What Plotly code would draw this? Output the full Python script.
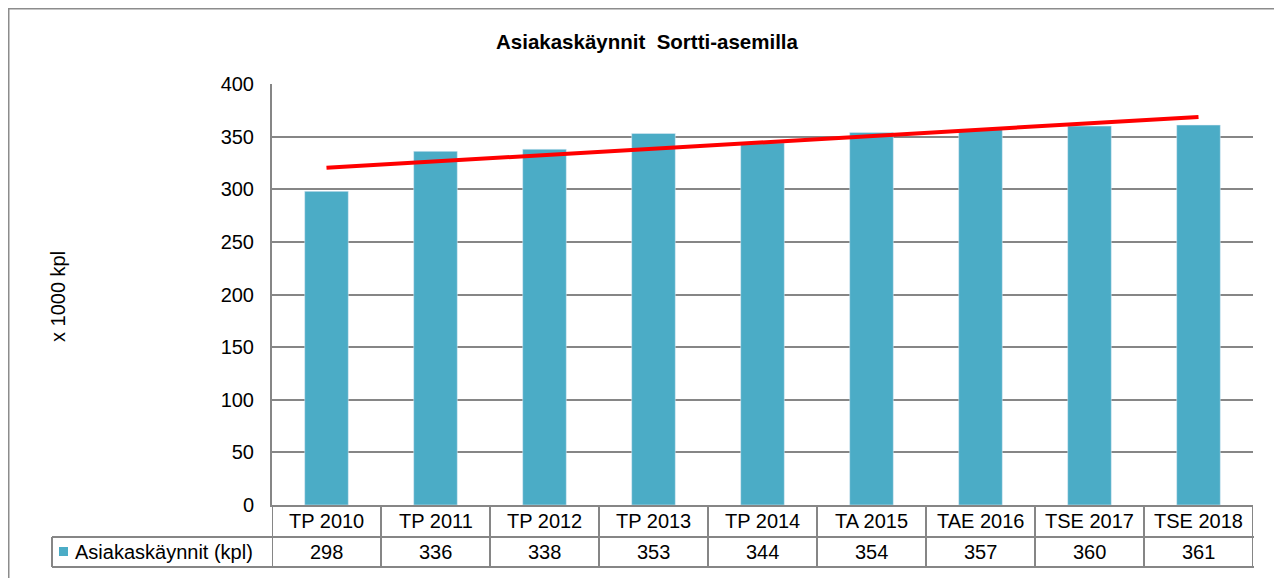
import numpy as np
import plotly.graph_objects as go

categories = ["TP 2010", "TP 2011", "TP 2012", "TP 2013", "TP 2014",
              "TA 2015", "TAE 2016", "TSE 2017", "TSE 2018"]
values = [298, 336, 338, 353, 344, 354, 357, 360, 361]
series_name = "Asiakaskäynnit (kpl)"
title_text = "Asiakaskäynnit  Sortti-asemilla"
y_title = "x 1000 kpl"
y_ticks = [0, 50, 100, 150, 200, 250, 300, 350, 400]

BAR = "#4BACC6"
GRID = "#868686"
FONT = "Liberation Sans, Arial, sans-serif"

OFF = 8  # default page body margin
W_FIG, H_FIG = 1282 - OFF, 578 - OFF
L, R, T, B = 272 - OFF, 1253 - OFF, 84 - OFF, 505 - OFF
PW, PH = R - L, B - T


def px(x):
    return (x - OFF - L) / PW


def py(y):
    return (B - (y - OFF)) / PH


xs = list(range(len(categories)))
coef = np.polyfit(xs, values, 1)
trend = np.polyval(coef, xs)

fig = go.Figure()
fig.add_trace(go.Bar(x=xs, y=values, marker_color=BAR, width=0.40,
                     name=series_name, showlegend=False))
fig.add_trace(go.Scatter(x=[xs[0], xs[-1]], y=[trend[0], trend[-1]], mode="lines",
                         line=dict(color="#FF0000", width=4), showlegend=False))

shapes = []
# outer frame
shapes.append(dict(type="rect", xref="paper", yref="paper",
                   x0=px(8.5), x1=px(1300), y0=py(8.5), y1=py(600),
                   line=dict(color="#8C8C8C", width=2), layer="below"))
# table: vertical lines at category boundaries
for i in range(len(categories) + 1):
    shapes.append(dict(type="line", xref="x", yref="paper",
                       x0=i - 0.5, x1=i - 0.5, y0=py(505), y1=py(567),
                       line=dict(color=GRID, width=2)))
# table horizontal lines
shapes.append(dict(type="line", xref="paper", yref="paper",
                   x0=px(52), x1=px(1254), y0=py(537), y1=py(537),
                   line=dict(color=GRID, width=2)))
shapes.append(dict(type="line", xref="paper", yref="paper",
                   x0=px(52), x1=px(1254), y0=py(567), y1=py(567),
                   line=dict(color=GRID, width=2)))
# legend cell left border
shapes.append(dict(type="line", xref="paper", yref="paper",
                   x0=px(52), x1=px(52), y0=py(537), y1=py(567),
                   line=dict(color=GRID, width=2)))
# legend key square
shapes.append(dict(type="rect", xref="paper", yref="paper",
                   x0=px(59), x1=px(68), y0=py(556), y1=py(547),
                   fillcolor=BAR, line=dict(width=0)))

annotations = []
for i, c in enumerate(categories):
    annotations.append(dict(x=i, y=py(521), xref="x", yref="paper", text=c,
                            showarrow=False, font=dict(size=20, color="#000", family=FONT),
                            xanchor="center", yanchor="middle"))
    annotations.append(dict(x=i, y=py(552), xref="x", yref="paper", text=str(values[i]),
                            showarrow=False, font=dict(size=20, color="#000", family=FONT),
                            xanchor="center", yanchor="middle"))
annotations.append(dict(x=px(73), y=py(552), xref="paper", yref="paper", text=series_name,
                        showarrow=False, font=dict(size=20, color="#000", family=FONT),
                        xanchor="left", yanchor="middle"))
annotations.append(dict(x=px(647), y=py(42), xref="paper", yref="paper",
                        text="<b>" + title_text + "</b>", showarrow=False,
                        font=dict(size=20.5, color="#000", family=FONT),
                        xanchor="center", yanchor="middle"))
annotations.append(dict(x=px(58), y=py(297), xref="paper", yref="paper", text=y_title,
                        textangle=-90, showarrow=False,
                        font=dict(size=20, color="#000", family=FONT),
                        xanchor="center", yanchor="middle"))

fig.update_layout(
    width=W_FIG, height=H_FIG,
    margin=dict(l=L, r=W_FIG - R, t=T, b=H_FIG - B, pad=0),
    plot_bgcolor="white", paper_bgcolor="white",
    bargap=0.6,
    shapes=shapes, annotations=annotations,
    font=dict(family=FONT, size=20, color="#000"),
    xaxis=dict(range=[-0.5, len(categories) - 0.5], showticklabels=False,
               showgrid=False, zeroline=False, showline=True, linecolor=GRID,
               linewidth=2, ticks="", fixedrange=True),
    yaxis=dict(range=[0, 400], tickvals=y_ticks, showgrid=True, gridcolor=GRID,
               gridwidth=1.5, zeroline=False, showline=True, linecolor=GRID,
               linewidth=2, ticks="outside", ticklen=12, tickcolor="rgba(0,0,0,0)",
               tickfont=dict(size=20, family=FONT), fixedrange=True),
)

fig.write_html("out.html")
